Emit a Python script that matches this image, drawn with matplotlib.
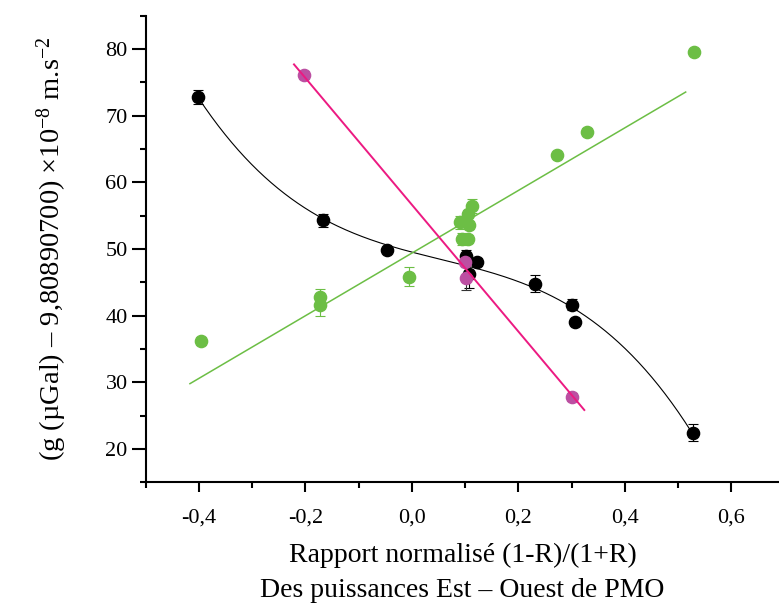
import numpy as np
import matplotlib
matplotlib.use("Agg")
import matplotlib.pyplot as plt
from matplotlib.ticker import FuncFormatter, MultipleLocator

# ── data ─────────────────────────────────────────────────────
black_x   = [-0.401, -0.167, -0.046, 0.101, 0.123, 0.108, 0.231, 0.300, 0.307, 0.528]
black_y   = [72.8, 54.3, 49.9, 49.0, 48.0, 46.3, 44.8, 41.65, 39.0, 22.45]
black_err = [1.1, 1.0, 0.4, 0.9, 0.6, 2.2, 1.3, 0.85, 0.3, 1.3]

green_x   = [-0.396, -0.172, -0.172, -0.005, 0.091, 0.106, 0.113, 0.108, 0.093, 0.106, 0.273, 0.328, 0.529]
green_y   = [36.25, 42.85, 41.6, 45.85, 54.0, 55.25, 56.45, 53.6, 51.45, 51.45, 64.15, 67.6, 79.5]
green_err = [0.6, 1.1, 1.65, 1.45, 1.0, 0.6, 1.0, 0.6, 0.9, 0.6, 0.3, 0.5, 0.4]

pink_x    = [-0.202, 0.0995, 0.101, 0.3005]
pink_y    = [76.1, 48.1, 45.6, 27.85]
pink_err  = [0.6, 0.5, 1.75, 0.6]

# fitted straight lines (end points)
green_fit_x = [-0.417, 0.514]
green_fit_y = [29.8, 73.55]
pink_fit_x  = [-0.2216, 0.3236]
pink_fit_y  = [77.7, 25.85]

GREEN      = "#6CBE45"
PINK_MARK  = "#BC4FA2"
PINK_LINE  = "#EC1A82"
BLACK      = "#000000"

plt.rcParams.update({
    "font.family": ["Liberation Serif", "DejaVu Serif"],
    "mathtext.fontset": "custom",
    "mathtext.rm": "Liberation Serif",
    "mathtext.it": "Liberation Serif:italic",
    "axes.unicode_minus": False,
})

fig = plt.figure(figsize=(7.79, 6.12), dpi=100)
ax = fig.add_axes([0.1871, 0.2119, 0.8134, 0.7624])

# black polynomial fit
coef = np.polyfit(black_x, black_y, 3)
xs = np.linspace(min(black_x), max(black_x), 300)
ax.plot(xs, np.polyval(coef, xs), color=BLACK, lw=0.8, zorder=2)

ax.plot(green_fit_x, green_fit_y, color=GREEN, lw=1.1, zorder=2)

ms = 8.8
ax.errorbar(green_x, green_y, yerr=green_err, fmt="o", color=GREEN, ms=ms,
            mec=GREEN, ecolor=GREEN, elinewidth=0.8, capsize=3.6, capthick=0.8, zorder=3)
ax.errorbar(black_x, black_y, yerr=black_err, fmt="o", color=BLACK, ms=ms,
            ecolor=BLACK, elinewidth=0.8, capsize=3.6, capthick=0.8, zorder=4)
ax.errorbar(pink_x, pink_y, yerr=pink_err, fmt="o", color=PINK_MARK, ms=ms,
            mec=PINK_MARK, ecolor="#333333", elinewidth=0.8, capsize=3.6, capthick=0.8, zorder=5)

ax.plot(pink_fit_x, pink_fit_y, color=PINK_LINE, lw=1.4, zorder=6)

ax.set_xlim(-0.5, 0.69)
ax.set_ylim(15, 85)

for s in ("top", "right"):
    ax.spines[s].set_visible(False)
for s in ("left", "bottom"):
    ax.spines[s].set_linewidth(1.5)

ax.xaxis.set_major_locator(MultipleLocator(0.2))
ax.xaxis.set_minor_locator(MultipleLocator(0.1))
ax.yaxis.set_major_locator(MultipleLocator(10))
ax.yaxis.set_minor_locator(MultipleLocator(5))
ax.xaxis.set_major_formatter(FuncFormatter(lambda v, _: f"{v:.1f}".replace(".", ",").replace("-0,0", "0,0")))
ax.yaxis.set_major_formatter(FuncFormatter(lambda v, _: f"{v:.0f}"))

ax.tick_params(axis="x", which="major", direction="out", length=7, width=1.5, pad=12, labelsize=16)
ax.tick_params(axis="x", which="minor", direction="out", length=4, width=1.5)
ax.tick_params(axis="y", which="major", direction="out", length=10, width=1.5, pad=3, labelsize=16)
ax.tick_params(axis="y", which="minor", direction="out", length=4.5, width=1.5)

ax.set_xlabel("Rapport normalisé (1-R)/(1+R)\nDes puissances Est – Ouest de PMO",
              fontsize=20, labelpad=11, linespacing=1.5)
ax.set_ylabel(r"(g (µGal) – 9,80890700) ×10$^{\mathregular{-8}}$ m.s$^{\mathregular{-2}}$",
              fontsize=20.5, labelpad=26)

fig.savefig("out.png", dpi=100)
